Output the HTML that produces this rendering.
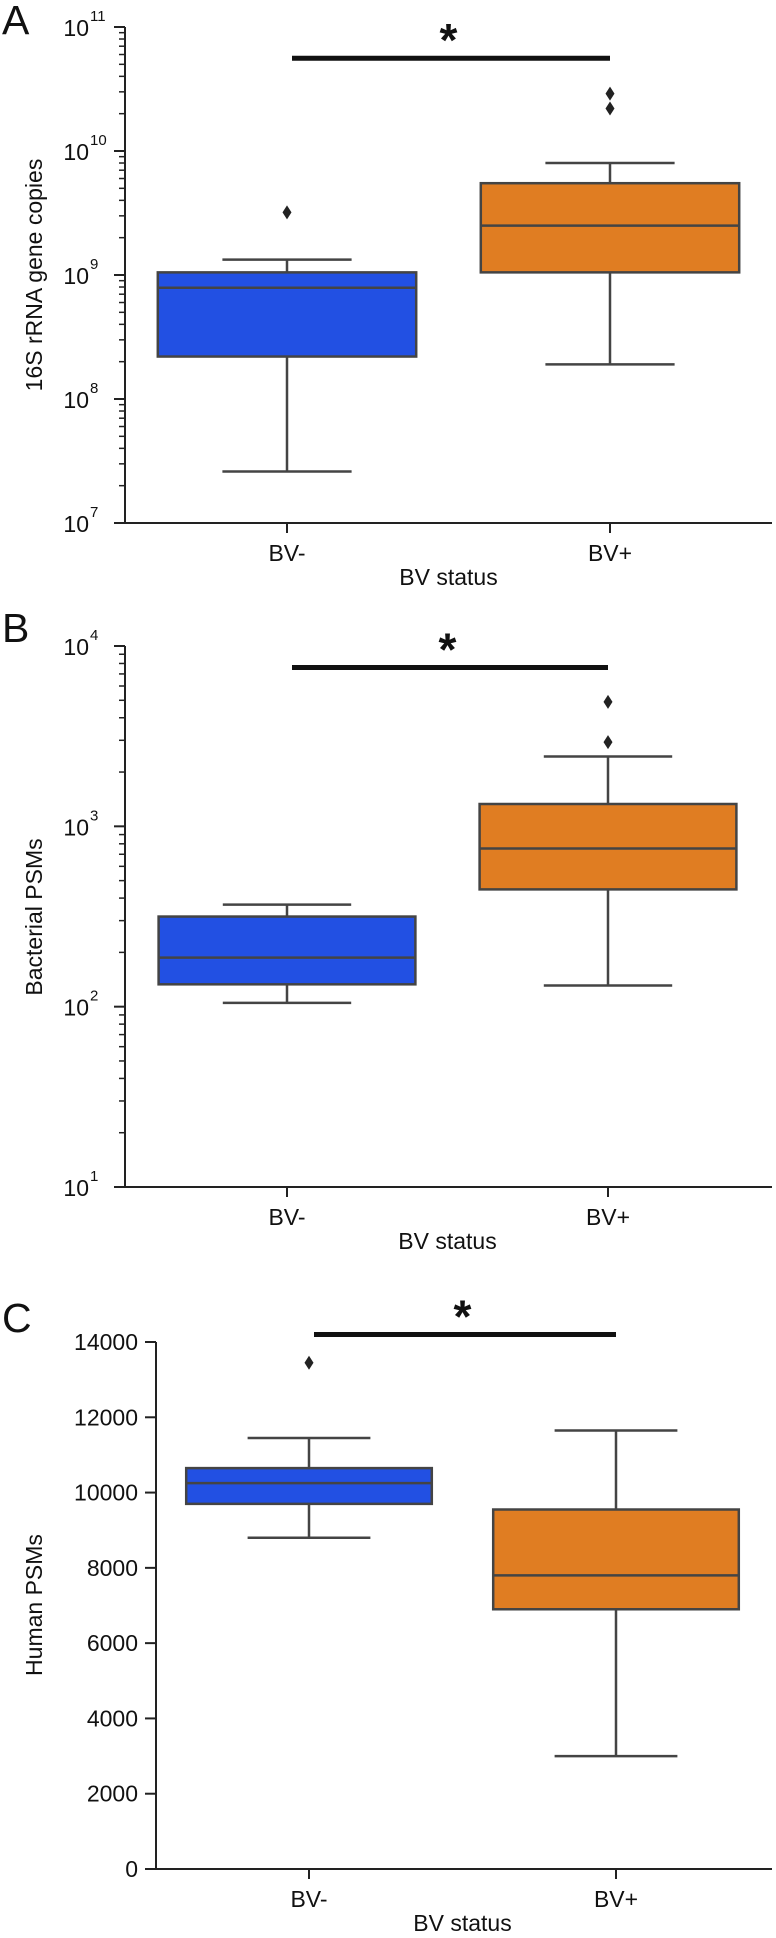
<!DOCTYPE html>
<html><head><meta charset="utf-8">
<style>
html,body{margin:0;padding:0;background:#fff;}
svg{display:block;font-family:"Liberation Sans",Arial,sans-serif;}
</style></head>
<body>
<svg id="fig" width="776" height="1938" viewBox="0 0 776 1938" xmlns="http://www.w3.org/2000/svg">
<text x="2" y="34" font-size="41" fill="#111">A</text>
<text x="2" y="642" font-size="41" fill="#111">B</text>
<text x="2" y="1332" font-size="41" fill="#111">C</text>
<text transform="translate(42,275) rotate(-90)" text-anchor="middle" font-size="23" fill="#111">16S rRNA gene copies</text>
<text transform="translate(42,917) rotate(-90)" text-anchor="middle" font-size="23" fill="#111">Bacterial PSMs</text>
<text transform="translate(42,1605) rotate(-90)" text-anchor="middle" font-size="23" fill="#111">Human PSMs</text>
</svg>
<script>
// ---- data ----
const categories = ["BV-", "BV+"];
// panel A: [low whisker, Q1, median, Q3, high whisker]
const statsA_neg = [2.6e7, 2.2e8, 7.9e8, 1.05e9, 1.33e9];
const statsA_pos = [1.9e8, 1.05e9, 2.5e9, 5.5e9, 8.0e9];
const outliersA_neg = [3.2e9];
const outliersA_pos = [2.2e10, 2.9e10];
const sigA = 5.6e10;
// panel B
const statsB_neg = [105, 133, 187, 316, 368];
const statsB_pos = [131, 447, 754, 1330, 2440];
const outliersB_neg = [];
const outliersB_pos = [2930, 4900];
const sigB = 7600;
// panel C
const statsC_neg = [8800, 9700, 10250, 10650, 11450];
const statsC_pos = [3000, 6900, 7800, 9550, 11650];
const outliersC_neg = [13450];
const outliersC_pos = [];
const sigC = 14200;
const ticksC = [0, 2000, 4000, 6000, 8000, 10000, 12000, 14000];
const decadesA = [7, 8, 9, 10, 11];
const decadesB = [1, 2, 3, 4];

const NS = "http://www.w3.org/2000/svg";
const svg = document.getElementById("fig");
function mk(tag, attrs, parent) {
  const e = document.createElementNS(NS, tag);
  for (const k in attrs) e.setAttribute(k, attrs[k]);
  (parent || svg).appendChild(e);
  return e;
}
const colors = ["#2250e3", "#e07d22"];

function panel(cfg) {
  const g = mk("g", {});
  
  
  const y = cfg.log
    ? v => cfg.yTop + (cfg.dMax - Math.log10(v)) / (cfg.dMax - cfg.dMin) * (cfg.yBot - cfg.yTop)
    : v => cfg.yBot - (v - cfg.vMin) / (cfg.vMax - cfg.vMin) * (cfg.yBot - cfg.yTop);
  const xs = [cfg.x0, cfg.x1];
  const bw = (cfg.x1 - cfg.x0) * 0.8;
  const ys = mk("line", {x1: cfg.ax, y1: cfg.yTop, x2: cfg.ax, y2: cfg.yBot, stroke: "#222", "stroke-width": 2}, g);
  
  
  const xl = mk("line", {x1: cfg.ax - 1, y1: cfg.yBot, x2: cfg.right, y2: cfg.yBot, stroke: "#222", "stroke-width": 2}, g);
  
  
  if (cfg.log) {
    cfg.decades.forEach((d, i) => {
      const yy = y(Math.pow(10, d));
      mk("line", {x1: cfg.ax - 11, y1: yy, x2: cfg.ax, y2: yy, stroke: "#222", "stroke-width": 2}, g);
      const t = mk("text", {x: cfg.ax - 36, y: yy + 9, "text-anchor": "end", "font-size": 23, fill: "#111"}, g);
      
      
      t.textContent = "10";
      const s = mk("text", {x: cfg.ax - 35, y: yy - 6, "font-size": 15, fill: "#111"}, g);
      
      
      s.textContent = String(d);
      if (i < cfg.decades.length - 1) {
        for (let m = 2; m <= 9; m++) {
          const ym = y(m * Math.pow(10, d));
          mk("line", {x1: cfg.ax - 6, y1: ym, x2: cfg.ax, y2: ym, stroke: "#222", "stroke-width": 1.5}, g);
        }
      }
    });
  } else {
    cfg.ticks.forEach(v => {
      const yy = y(v);
      mk("line", {x1: cfg.ax - 11, y1: yy, x2: cfg.ax, y2: yy, stroke: "#222", "stroke-width": 2}, g);
      const t = mk("text", {x: cfg.ax - 18, y: yy + 8, "text-anchor": "end", "font-size": 23, fill: "#111"}, g);
      
      
      t.textContent = String(v);
    });
  }
  categories.forEach((c, i) => {
    mk("line", {x1: xs[i], y1: cfg.yBot, x2: xs[i], y2: cfg.yBot + 10, stroke: "#222", "stroke-width": 2}, g);
    const t = mk("text", {x: xs[i], y: cfg.yBot + 38, "text-anchor": "middle", "font-size": 23, fill: "#111"}, g);
    
    
    t.textContent = c;
  });
  const xt = mk("text", {x: (xs[0] + xs[1]) / 2, y: cfg.yBot + 62, "text-anchor": "middle", "font-size": 23, fill: "#111"}, g);
  
  
  xt.textContent = "BV status";
  cfg.stats.forEach((s, i) => {
    const cx = xs[i];
    const bg = mk("g", {}, g);
    
    
    const st = {stroke: "#444", "stroke-width": 2.5};
    mk("line", Object.assign({x1: cx, y1: y(s[0]), x2: cx, y2: y(s[1])}, st), bg);
    mk("line", Object.assign({x1: cx, y1: y(s[3]), x2: cx, y2: y(s[4])}, st), bg);
    mk("line", Object.assign({x1: cx - bw / 4, y1: y(s[0]), x2: cx + bw / 4, y2: y(s[0])}, st), bg);
    mk("line", Object.assign({x1: cx - bw / 4, y1: y(s[4]), x2: cx + bw / 4, y2: y(s[4])}, st), bg);
    mk("rect", Object.assign({x: cx - bw / 2, y: y(s[3]), width: bw, height: y(s[1]) - y(s[3]), fill: colors[i]}, st), bg);
    mk("line", Object.assign({x1: cx - bw / 2, y1: y(s[2]), x2: cx + bw / 2, y2: y(s[2])}, st), bg);
    cfg.outliers[i].forEach(o => {
      const oy = y(o);
      const d = mk("path", {d: `M${cx} ${oy - 7} L${cx + 4.5} ${oy} L${cx} ${oy + 7} L${cx - 4.5} ${oy} Z`, fill: "#222"}, bg);
      
      
    });
  });
  const sy = y(cfg.sig);
  const sb = mk("line", {x1: xs[0] + 5, y1: sy, x2: xs[1], y2: sy, stroke: "#111", "stroke-width": 5}, g);
  
  
  const star = mk("text", {x: (xs[0] + xs[1]) / 2, y: sy - 2, "text-anchor": "middle", "font-size": 46, "font-weight": "bold", fill: "#111"}, g);
  
  
  star.textContent = "*";
}

panel({name: "panel-a-16s-copies", log: true, dMin: 7, dMax: 11, yTop: 27, yBot: 523, decades: decadesA,
  ax: 125, x0: 287, x1: 610, right: 772,
  stats: [statsA_neg, statsA_pos], outliers: [outliersA_neg, outliersA_pos], sig: sigA});
panel({name: "panel-b-bacterial-psms", log: true, dMin: 1, dMax: 4, yTop: 646, yBot: 1187, decades: decadesB,
  ax: 125, x0: 287, x1: 608, right: 772,
  stats: [statsB_neg, statsB_pos], outliers: [outliersB_neg, outliersB_pos], sig: sigB});
panel({name: "panel-c-human-psms", log: false, vMin: 0, vMax: 14000, yTop: 1342, yBot: 1869, ticks: ticksC,
  ax: 156, x0: 309, x1: 616, right: 772,
  stats: [statsC_neg, statsC_pos], outliers: [outliersC_neg, outliersC_pos], sig: sigC});
</script>
</body></html>
